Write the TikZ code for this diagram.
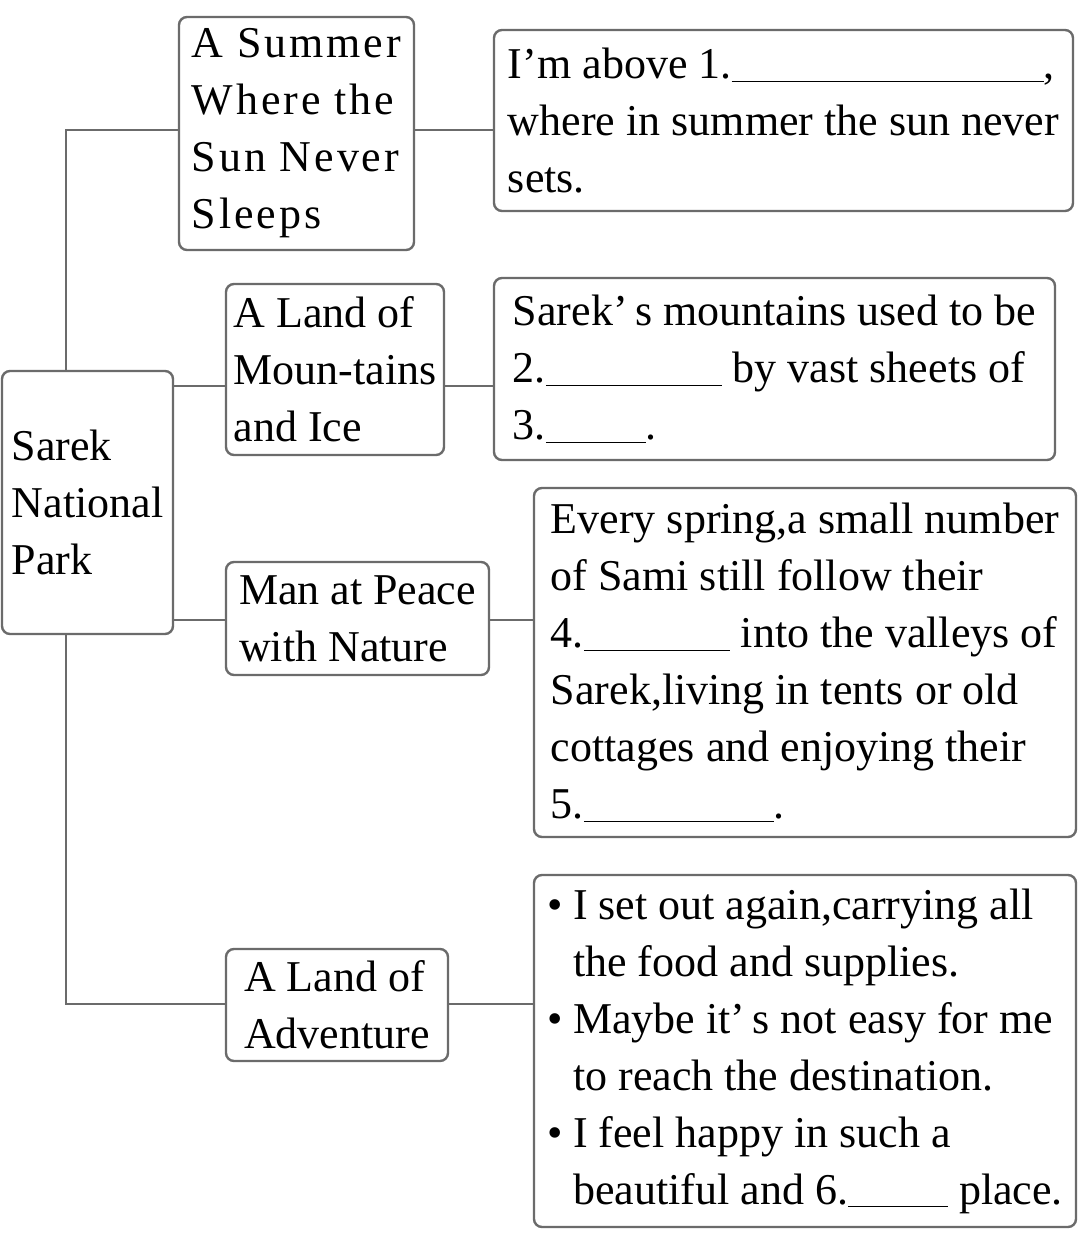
\documentclass[tikz,border=0pt]{standalone}
\usepackage{fontspec}
\setmainfont{Liberation Serif}
\newfontfamily\spacedserif[LetterSpace=6.5]{Liberation Serif}
\usetikzlibrary{positioning}

\newcommand{\blank}[1]{\underline{\hspace{#1}}}
\newcommand{\bul}{\makebox[13pt][l]{\textbullet}}
\newcommand{\indt}{\hspace*{13pt}}

\begin{document}
\begin{tikzpicture}[
    x=0.5pt, y=-0.5pt,
    every node/.style={align=left},
    box/.style={
        draw=black!58,
        rounded corners=4pt,
        line width=1.2pt,
        inner xsep=3pt,
        inner ysep=0pt,
        font=\fontsize{22}{28.5}\selectfont
    },
    spaced/.style={
        font=\spacedserif\fontsize{22}{28.5}\selectfont
    },
    link/.style={
        draw=black!58,
        line width=1.2pt
    }
]
\useasboundingbox (0,0) rectangle (1080,1246);

% topic boxes
\node[box, minimum width=85.5pt, minimum height=131.5pt] (sarek) at (87.5,502.5) {Sarek\\National\\Park};
\node[box, spaced, minimum width=117.5pt, minimum height=116.5pt] (summer) at (296.5,133.5) {A Summer\\Where the\\Sun Never\\Sleeps};
\node[box, minimum width=109pt, minimum height=85.5pt] (mountains) at (335,369.5) {A Land of\\Moun-tains\\and Ice};
\node[box, minimum width=131.5pt, minimum height=56.5pt] (peace) at (357.5,618.5) {Man at Peace\\with Nature};
\node[box, minimum width=111pt, minimum height=56pt] (adventure) at (337,1005) {A Land of\\Adventure};

% detail boxes
\node[box, minimum width=289.5pt, minimum height=90.5pt] (sun) at (783.5,120.5) {I’m above 1.\blank{156pt},\\where in summer the sun never\\sets.};
\node[box, minimum width=280.5pt, minimum height=91pt] (ice) at (774.5,369) {Sarek’\,s mountains used to be\\2.\blank{88pt} by vast sheets of\\3.\blank{50pt}.};
\node[box, minimum width=271pt, minimum height=174.5pt] (sami) at (805,662.5) {Every spring,a small number\\of Sami still follow their\\4.\blank{73pt} into the valleys of\\Sarek,living in tents or old\\cottages and enjoying their\\5.\blank{95pt}.};
\node[box, minimum width=271pt, minimum height=176pt] (trip) at (805,1051) {\bul I set out again,carrying all\\\indt the food and supplies.\\\bul Maybe it’\,s not easy for me\\\indt to reach the destination.\\\bul I feel happy in such a\\\indt beautiful and 6.\blank{50pt} place.};

% rows of the tree
\coordinate (row1) at (66,130);
\coordinate (row2) at (66,386);
\coordinate (row3) at (66,620);
\coordinate (row4) at (66,1004);

\draw[link] (sarek.north -| row1) -- (row1) -- (row1 -| summer.west);
\draw[link] (sarek.south -| row4) -- (row4) -- (row4 -| adventure.west);
\draw[link] (row2 -| sarek.east) -- (row2 -| mountains.west);
\draw[link] (row3 -| sarek.east) -- (row3 -| peace.west);

\draw[link] (row1 -| summer.east) -- (row1 -| sun.west);
\draw[link] (row2 -| mountains.east) -- (row2 -| ice.west);
\draw[link] (row3 -| peace.east) -- (row3 -| sami.west);
\draw[link] (row4 -| adventure.east) -- (row4 -| trip.west);
\end{tikzpicture}
\end{document}
